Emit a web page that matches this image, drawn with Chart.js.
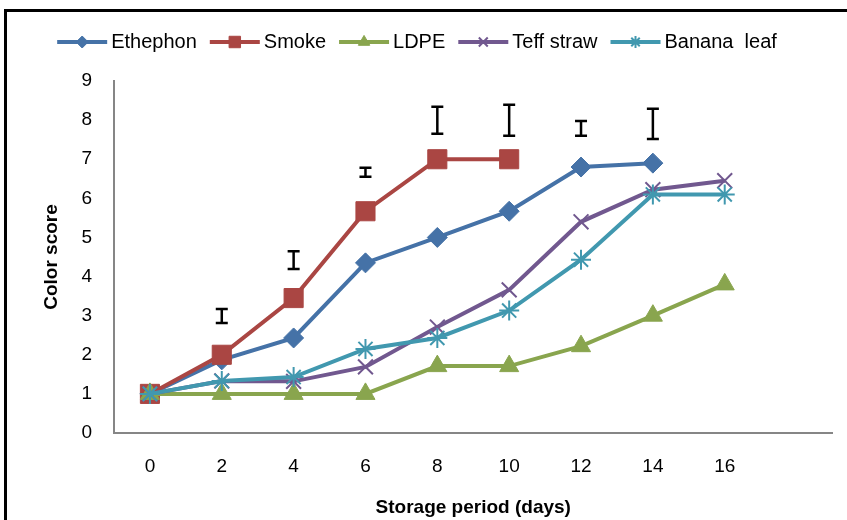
<!DOCTYPE html>
<html>
<head>
<meta charset="utf-8">
<script src="https://cdn.jsdelivr.net/npm/chart.js@4/dist/chart.umd.min.js"></script>
<style>
  body { margin: 0; background: #fff; }
  canvas { display: block; }
</style>
</head>
<body>
<canvas id="colorChart" width="847" height="520"></canvas>
<script>
// Storage days (last slot is empty, as in the original axis)
const days = ['0', '2', '4', '6', '8', '10', '12', '14', '16', ''];

const ethephon   = [1, 1.87, 2.43, 4.35, 5.0, 5.67, 6.8, 6.9, null, null];
const smoke      = [1, 2.0, 3.45, 5.67, 7.0, 7.0, null, null, null, null];
const ldpe       = [1, 1, 1, 1, 1.71, 1.71, 2.22, 3.0, 3.8, null];
const teffStraw  = [1, 1.33, 1.32, 1.69, 2.71, 3.66, 5.4, 6.22, 6.45, null];
const bananaLeaf = [1, 1.33, 1.43, 2.15, 2.43, 3.13, 4.43, 6.1, 6.1, null];

// LSD bars (low, high) per storage day
const errLow  = [null, 2.81, 4.19, 6.55, 7.65, 7.6, 7.6, 7.52, null, null];
const errHigh = [null, 3.17, 4.65, 6.78, 8.34, 8.39, 7.98, 8.29, null, null];

const FONT = '"Liberation Sans", Arial, sans-serif';

function series(label, data, color, style, radius, order) {
    return {
        label: label,
        data: data,
        borderColor: color,
        backgroundColor: color,
        borderWidth: 4,
        pointStyle: style,
        pointRadius: radius,
        pointHoverRadius: radius,
        pointBorderWidth: (style === 'crossRot' || style === 'star') ? 2 : 1,
        pointBackgroundColor: color,
        pointBorderColor: color,
        tension: 0,
        spanGaps: false,
        order: order
    };
}

const datasets = [
    series('Ethephon', ethephon, '#4572A7', 'rectRot', 10, 5),
    series('Smoke', smoke, '#AA4643', 'rect', 13.5, 4),
    series('LDPE', ldpe, '#89A54E', 'triangle', 11, 3),
    series('Teff straw', teffStraw, '#71588F', 'crossRot', 10.5, 2),
    series('Banana  leaf', bananaLeaf, '#4198AF', 'star', 10, 1)
];

// Outer frame of the figure
const framePlugin = {
    id: 'frame',
    beforeDraw(chart) {
        const ctx = chart.ctx;
        ctx.save();
        ctx.strokeStyle = '#000';
        ctx.lineWidth = 3;
        ctx.beginPath();
        ctx.moveTo(5.5, 520);
        ctx.lineTo(5.5, 10.5);
        ctx.lineTo(847, 10.5);
        ctx.stroke();
        ctx.restore();
    }
};

// Error bars drawn through the scales
const errorBarPlugin = {
    id: 'errorBars',
    afterDatasetsDraw(chart) {
        const ctx = chart.ctx;
        const xs = chart.scales.x, ys = chart.scales.y;
        ctx.save();
        ctx.strokeStyle = '#000';
        ctx.lineWidth = 2.5;
        errLow.forEach((lo, i) => {
            if (lo === null) return;
            const x = xs.getPixelForValue(i);
            const y1 = ys.getPixelForValue(lo);
            const y2 = ys.getPixelForValue(errHigh[i]);
            ctx.beginPath();
            ctx.moveTo(x, y1); ctx.lineTo(x, y2);
            ctx.moveTo(x - 6, y1); ctx.lineTo(x + 6, y1);
            ctx.moveTo(x - 6, y2); ctx.lineTo(x + 6, y2);
            ctx.stroke();
        });
        ctx.restore();
    }
};

// Legend with line + marker, like the spreadsheet one
const lineLegendPlugin = {
    id: 'lineLegend',
    afterDraw(chart) {
        const ctx = chart.ctx;
        const lineLen = 50, textGap = 4, itemGap = 13, y = 42;
        ctx.save();
        ctx.font = '20px ' + FONT;
        let total = 0;
        datasets.forEach(d => { total += lineLen + textGap + ctx.measureText(d.label).width; });
        total += itemGap * (datasets.length - 1);
        let x = 417 - total / 2;
        datasets.forEach(d => {
            ctx.strokeStyle = d.borderColor;
            ctx.fillStyle = d.borderColor;
            ctx.lineWidth = 4;
            ctx.beginPath();
            ctx.moveTo(x, y); ctx.lineTo(x + lineLen, y);
            ctx.stroke();
            ctx.lineWidth = d.pointBorderWidth;
            Chart.helpers.drawPoint(ctx, {
                pointStyle: d.pointStyle,
                radius: d.pointRadius * 0.6,
                rotation: 0,
                borderWidth: d.pointBorderWidth
            }, x + lineLen / 2, y);
            ctx.fillStyle = '#000';
            ctx.textBaseline = 'middle';
            ctx.textAlign = 'left';
            ctx.fillText(d.label, x + lineLen + textGap, y);
            x += lineLen + textGap + ctx.measureText(d.label).width + itemGap;
        });
        ctx.restore();
    }
};

const ctx = document.getElementById('colorChart').getContext('2d');
const colorChart = new Chart(ctx, {
    type: 'line',
    data: {
        labels: days,
        datasets: datasets
    },
    options: {
        responsive: false,
        animation: false,
        layout: {
            padding: { top: 81, right: 13, bottom: 0, left: 0 }
        },
        scales: {
            x: {
                offset: true,
                grid: { display: false, drawTicks: false },
                border: { color: '#868686', width: 2 },
                ticks: {
                    color: '#000',
                    padding: 22,
                    font: { family: FONT, size: 19 }
                },
                title: {
                    display: true,
                    text: 'Storage period (days)',
                    color: '#000',
                    padding: { top: 0, bottom: 1 },
                    font: { family: FONT, size: 19, weight: 'bold' }
                },
                afterFit(scale) { scale.height = 87; }
            },
            y: {
                min: 0,
                max: 9,
                grid: { display: false, drawTicks: false },
                border: { color: '#868686', width: 2 },
                ticks: {
                    stepSize: 1,
                    color: '#000',
                    padding: 22,
                    font: { family: FONT, size: 19 }
                },
                title: {
                    display: true,
                    text: 'Color score',
                    color: '#000',
                    padding: { top: 40, bottom: 0 },
                    font: { family: FONT, size: 19, weight: 'bold' }
                },
                afterFit(scale) { scale.width = 114; }
            }
        },
        plugins: {
            legend: { display: false },
            tooltip: { enabled: false }
        }
    },
    plugins: [framePlugin, errorBarPlugin, lineLegendPlugin]
});
</script>
</body>
</html>
